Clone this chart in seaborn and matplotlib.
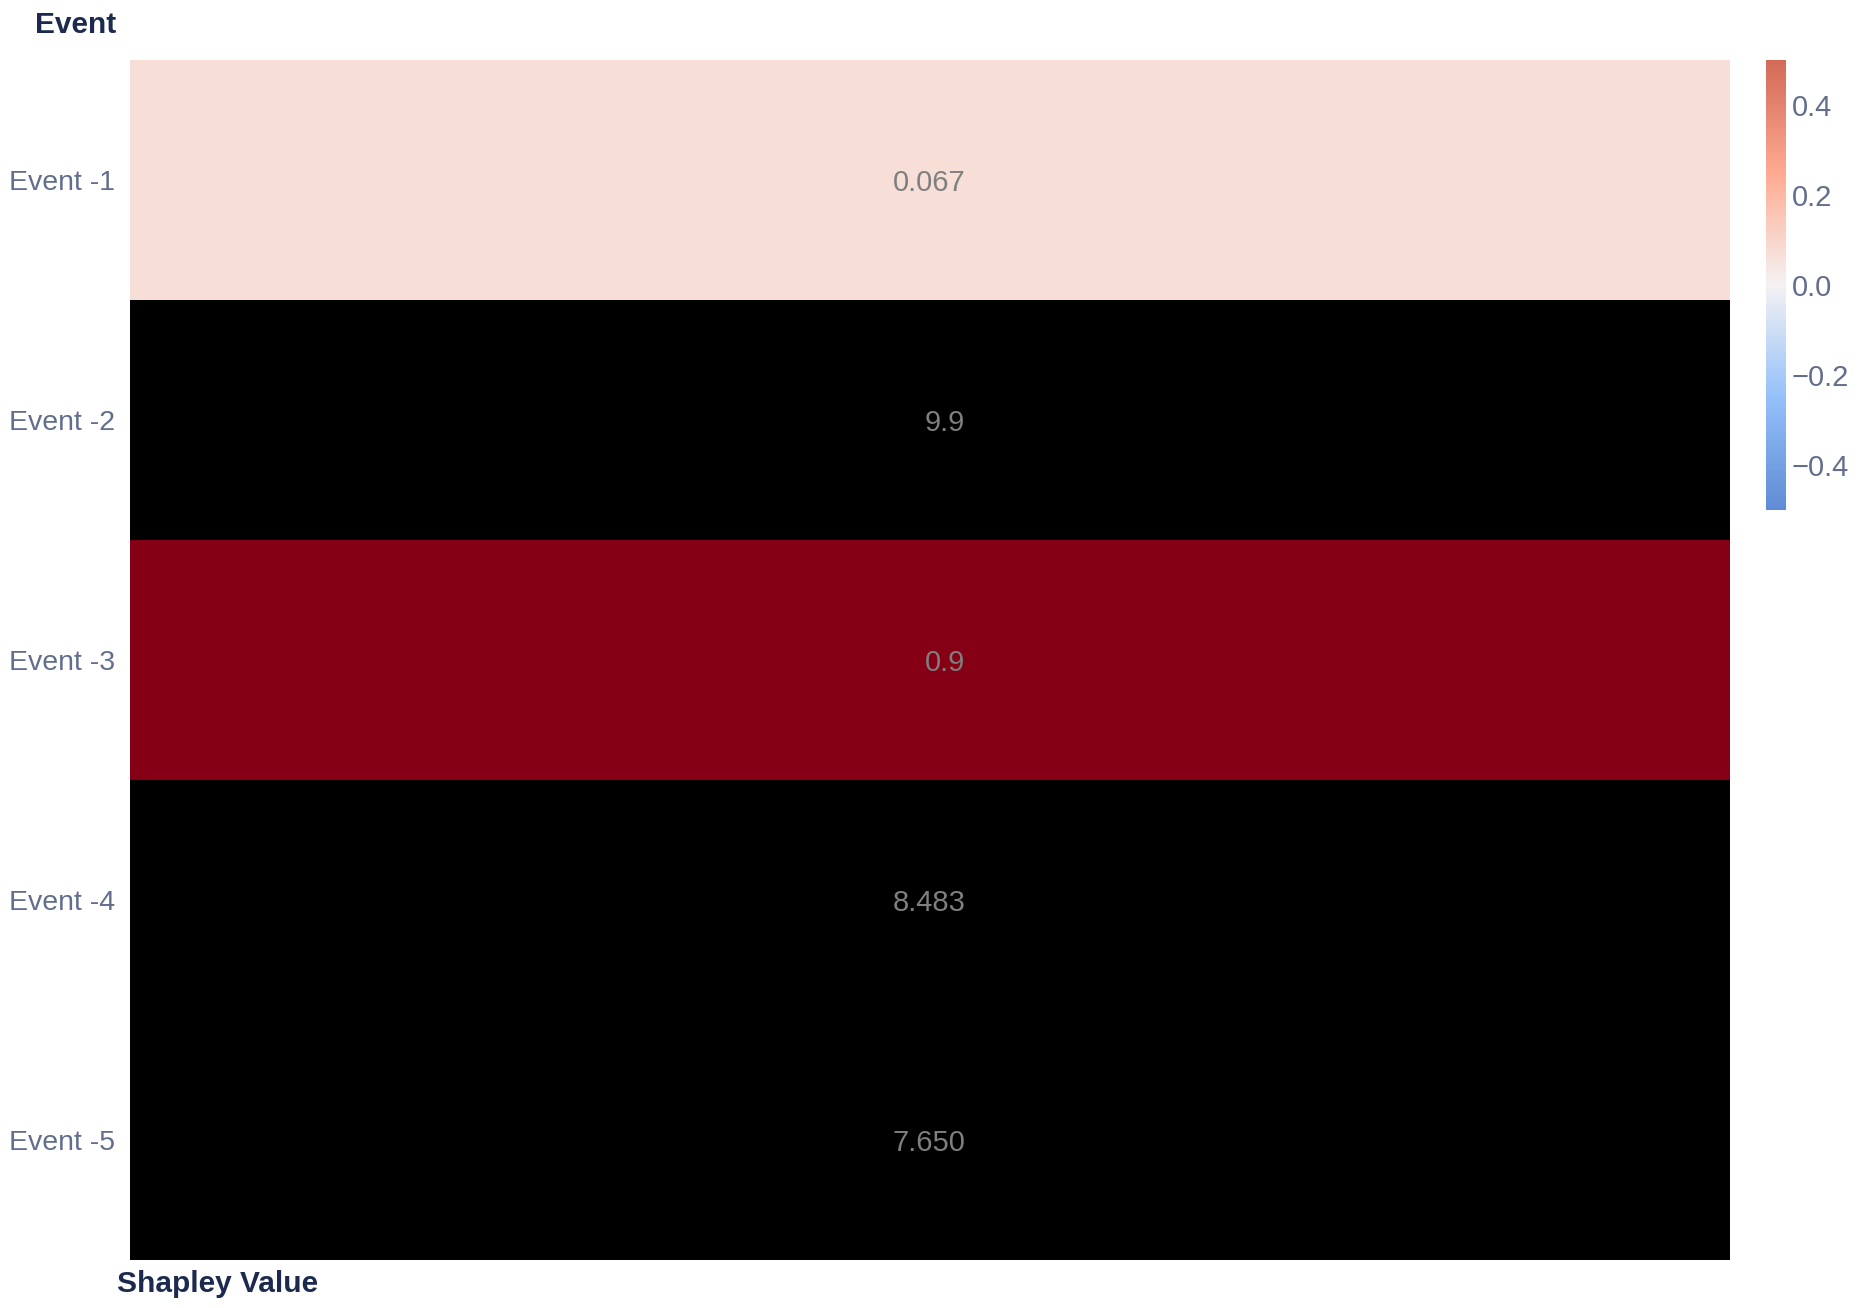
import numpy as np
import pandas as pd
import matplotlib
matplotlib.use("Agg")
import matplotlib.pyplot as plt
import seaborn as sns
from matplotlib.colors import LinearSegmentedColormap, Normalize
from matplotlib.cm import ScalarMappable

# ---- data ----
events = ["Event -1", "Event -2", "Event -3", "Event -4", "Event -5"]
color_values = [0.067, 9.9, 0.9, 8.483, 7.650]
cell_labels = ["0.067", "9.9", "0.9", "8.483", "7.650"]
x_label = "Shapley Value"
y_title = "Event"
cbar_ticks = [0.4, 0.2, 0.0, -0.2, -0.4]

sns.set_theme(style="white")
plt.rcParams["font.family"] = ["Liberation Sans", "DejaVu Sans"]

W, H = 1860, 1308
fig = plt.figure(figsize=(W / 100, H / 100), dpi=100)

# colour scale shown in the colour bar (-0.5 .. 0.5)
scale_cols = [(95/255, 140/255, 212/255), (148/255, 192/255, 250/255),
              (244/255, 242/255, 242/255), (255/255, 170/255, 145/255),
              (210/255, 106/255, 86/255)]
vmin, vmax = -0.5, 0.5
bar_cmap = LinearSegmentedColormap.from_list(
    "bar", list(zip(np.linspace(0, 1, 5), scale_cols)))

# cell colour map (extends beyond the bar range: dark red, then black)
top = 10.0
def p(v):
    return (v - vmin) / (top - vmin)
dark_red = (133/255, 0, 20/255)
cell_nodes = [(p(-0.5), scale_cols[0]), (p(-0.25), scale_cols[1]),
              (p(0.0), scale_cols[2]), (p(0.25), scale_cols[3]),
              (p(0.5), scale_cols[4]), (p(0.5005), dark_red),
              (p(1.0), dark_red), (p(1.0005), (0, 0, 0)), (1.0, (0, 0, 0))]
cell_cmap = LinearSegmentedColormap.from_list("cells", cell_nodes, N=4096)

df = pd.DataFrame({x_label: color_values}, index=events)

ax = fig.add_axes([130 / W, (H - 1260) / H, 1600 / W, 1200 / H])
sns.heatmap(df, ax=ax, cmap=cell_cmap, vmin=vmin, vmax=top, cbar=False,
            annot=False, linewidths=0)

tick_col = "#636e8c"
title_col = "#1b2a4e"
ax.set_xticks([])
ax.set_xlabel("")
ax.set_ylabel("")
ax.set_yticks(np.arange(len(events)) + 0.5)
ax.set_yticklabels(events, rotation=0, fontsize=20.5, color=tick_col,
                   va="center_baseline")
ax.tick_params(axis="y", length=0, pad=11)
for s in ax.spines.values():
    s.set_visible(False)

for i, lab in enumerate(cell_labels):
    ax.text(0.522, i + 0.5, lab, ha="right", va="center_baseline",
            fontsize=21, color="#7f7f7f")

fig.text(35 / W, 1 - 25 / H, y_title, ha="left", va="center",
         fontsize=21.5, fontweight="bold", color=title_col)
fig.text(117 / W, 1 - 1284 / H, x_label, ha="left", va="center",
         fontsize=21.5, fontweight="bold", color=title_col)

cax = fig.add_axes([1766 / W, (H - 510) / H, 20 / W, 450 / H])
sm = ScalarMappable(norm=Normalize(vmin, vmax), cmap=bar_cmap)
cb = fig.colorbar(sm, cax=cax, ticks=cbar_ticks)
cb.outline.set_visible(False)
cb.ax.set_yticklabels([f"{t:.1f}".replace("-", "\u2212") for t in cbar_ticks],
                      fontsize=21, color=tick_col)
cb.ax.tick_params(length=0, pad=4)

fig.savefig("out.png", dpi=100)
